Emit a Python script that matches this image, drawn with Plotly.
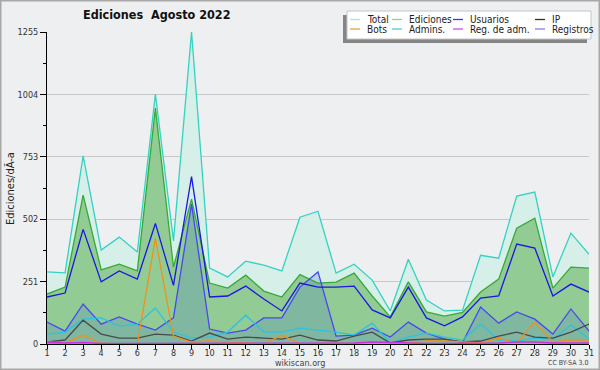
import plotly.graph_objects as go

days = list(range(1, 32))

total = [290, 286, 757, 378, 430, 370, 1005, 415, 1255, 305, 270, 333, 317, 294, 510, 534,
         285, 321, 257, 133, 341, 177, 133, 136, 357, 345, 595, 611, 270, 446, 361]
ediciones = [201, 229, 599, 298, 321, 294, 949, 309, 583, 245, 225, 277, 213, 189, 279, 245,
             249, 285, 193, 109, 250, 129, 112, 127, 209, 261, 466, 506, 225, 309, 305]
usuarios = [189, 205, 461, 250, 294, 261, 485, 236, 673, 189, 193, 233, 181, 133, 245, 229,
            229, 233, 137, 105, 229, 105, 73, 109, 185, 193, 402, 386, 193, 241, 209]
ip = [8, 16, 96, 40, 24, 24, 40, 36, 12, 44, 20, 28, 24, 20, 36, 16,
      12, 32, 48, 4, 16, 20, 20, 8, 12, 32, 48, 28, 24, 48, 80]
bots = [8, 4, 36, 2, 0, 0, 425, 32, 8, 12, 8, 4, 0, 36, 0, 2,
        2, 4, 2, 0, 4, 12, 12, 8, 4, 24, 4, 88, 8, 16, 16]
admins = [40, 48, 100, 105, 72, 80, 145, 48, 24, 28, 48, 116, 48, 48, 64, 56,
          48, 36, 84, 4, 28, 44, 28, 16, 80, 16, 12, 24, 20, 76, 20]
reg_adm = [6, 4, 6, 2, 2, 2, 2, 2, 2, 2, 2, 4, 2, 2, 2, 2,
           2, 4, 8, 6, 2, 2, 2, 2, 4, 4, 8, 8, 4, 4, 4]
registros = [88, 52, 161, 80, 109, 80, 56, 105, 563, 60, 44, 56, 105, 105, 229, 290,
             32, 36, 64, 28, 88, 44, 20, 6, 149, 84, 129, 100, 40, 141, 52]

ytick_vals = [0, 251, 502, 753, 1004, 1255]
legend_names = ["Total", "Ediciones", "Usuarios", "IP", "Bots", "Admins.", "Reg. de adm.", "Registros"]

FONT = "DejaVu Sans Condensed, DejaVu Sans, sans-serif"
BG = "#eeeff1"

# plot area in pixels
L, R, T, B = 47, 11, 32, 26
W, H = 600, 370
PW, PH = W - L - R, H - T - B


def px(x):
    return (x - L) / PW


def py(y):
    return (H - B - y) / PH


fig = go.Figure()

# fills
fig.add_trace(go.Scatter(x=days, y=total, mode="none", fill="tozeroy",
                         fillcolor="#d6efe8", showlegend=False, hoverinfo="skip"))
fig.add_trace(go.Scatter(x=days, y=ediciones, mode="none", fill="tozeroy",
                         fillcolor="#93cb95", showlegend=False, hoverinfo="skip"))
fig.add_trace(go.Scatter(x=days, y=registros, mode="none", fill="tozeroy",
                         fillcolor="rgba(70,120,200,0.24)", showlegend=False, hoverinfo="skip"))

series = [
    ("Total", total, "#35d2c2"),
    ("Ediciones", ediciones, "#35aa35"),
    ("Registros", registros, "#4848f0"),
    ("Admins.", admins, "#2cc2e2"),
    ("IP", ip, "#4a4a4a"),
    ("Bots", bots, "#f0901e"),
    ("Reg. de adm.", reg_adm, "#c830e0"),
    ("Usuarios", usuarios, "#1818e0"),
]
for name, vals, col in series:
    fig.add_trace(go.Scatter(x=days, y=vals, mode="lines", name=name,
                             line=dict(color=col, width=1.3), showlegend=False))

legend_colors = {
    "Total": "#a8e6dc", "Ediciones": "#90d090", "Usuarios": "#3a3ae0", "IP": "#303030",
    "Bots": "#f0a040", "Admins.": "#50c8e0", "Reg. de adm.": "#c850e0", "Registros": "#8080f0",
}

shapes = []
annotations = []

# outer border
shapes.append(dict(type="rect", xref="paper", yref="paper",
                   x0=px(0.5), x1=px(W - 0.5), y0=py(H - 0.5), y1=py(0.5),
                   line=dict(color="#a8a8a8", width=2), fillcolor="rgba(0,0,0,0)", layer="above"))

# legend shadow + box
shapes.append(dict(type="rect", xref="paper", yref="paper",
                   x0=px(343), x1=px(587), y0=py(43), y1=py(15),
                   line=dict(width=0), fillcolor="#858585", layer="above"))
shapes.append(dict(type="rect", xref="paper", yref="paper",
                   x0=px(347), x1=px(591), y0=py(39), y1=py(11),
                   line=dict(color="#c4c4c4", width=1), fillcolor="#ffffff", layer="above"))

col_x = [350, 392, 453, 535]
row_y = [19.5, 29]
for i, name in enumerate(legend_names):
    cx = col_x[i % 4]
    ry = row_y[i // 4]
    shapes.append(dict(type="line", xref="paper", yref="paper",
                       x0=px(cx), x1=px(cx + 10), y0=py(ry), y1=py(ry),
                       line=dict(color=legend_colors[name], width=1.3), layer="above"))
    annotations.append(dict(xref="paper", yref="paper", x=px(cx + 15), y=py(ry),
                            text=name, showarrow=False, xanchor="left", yanchor="middle",
                            font=dict(family=FONT, size=10, color="#222222")))

annotations.append(dict(xref="paper", yref="paper", x=px(156), y=py(15),
                        text="<b>Ediciones  Agosto 2022</b>", showarrow=False,
                        xanchor="center", yanchor="middle",
                        font=dict(family=FONT, size=12.5, color="#111111")))
annotations.append(dict(xref="paper", yref="paper", x=px(300), y=py(362.5),
                        text="wikiscan.org", showarrow=False,
                        xanchor="center", yanchor="middle",
                        font=dict(family=FONT, size=9, color="#444444")))
annotations.append(dict(xref="paper", yref="paper", x=px(590), y=py(363),
                        text="CC BY-SA 3.0", showarrow=False,
                        xanchor="right", yanchor="middle",
                        font=dict(family=FONT, size=7, color="#444444")))
annotations.append(dict(xref="paper", yref="paper", x=px(10), y=py(189),
                        text="Ediciones/dÃ-a", showarrow=False, textangle=-90,
                        xanchor="center", yanchor="middle",
                        font=dict(family=FONT, size=11, color="#222222")))

fig.update_layout(
    width=W, height=H,
    margin=dict(l=L, r=R, t=T, b=B, pad=0, autoexpand=False),
    paper_bgcolor=BG, plot_bgcolor=BG,
    showlegend=False,
    shapes=shapes, annotations=annotations,
    font=dict(family=FONT, size=9, color="#333333"),
)
fig.update_xaxes(range=[1, 31], tickvals=days, ticktext=[str(d) for d in days],
                 automargin=False, ticklabelstandoff=-4,
                 showgrid=False, zeroline=False, showline=True, linecolor="#000000", linewidth=1,
                 ticks="outside", ticklen=4, tickcolor="#000000",
                 tickfont=dict(family=FONT, size=9, color="#333333"))
fig.update_yaxes(range=[0, 1255], tickvals=ytick_vals, ticktext=[str(v) for v in ytick_vals],
                 automargin=False,
                 showgrid=True, gridcolor="#c8c8c8", gridwidth=1, zeroline=False,
                 showline=True, linecolor="#000000", linewidth=1,
                 ticks="outside", ticklen=6, tickcolor="#000000",
                 minor=dict(dtick=125.5, tick0=0, ticks="outside", ticklen=3, tickcolor="#000000",
                            showgrid=False),
                 tickfont=dict(family=FONT, size=9, color="#333333"))

fig.write_html("out.html", config={"displayModeBar": False},
               post_script="document.body.style.margin='0';document.body.style.padding='0';"
                           "document.body.style.overflow='hidden';")
